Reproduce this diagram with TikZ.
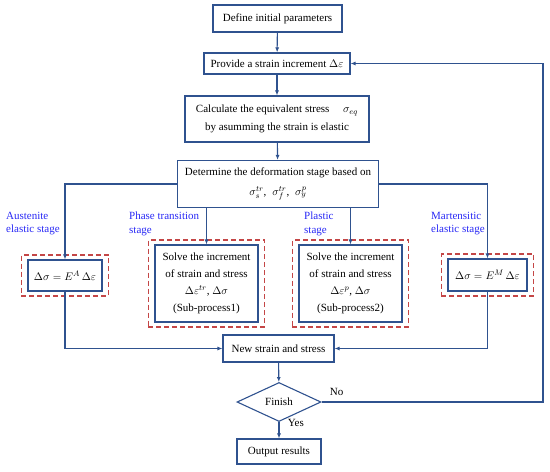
\documentclass[tikz,border=0pt]{standalone}
\usepackage{amsmath}
\usepackage{fontspec}
\setmainfont{Liberation Serif}
\usetikzlibrary{arrows.meta, positioning, shapes.geometric, calc, fit}
\definecolor{flowblue}{RGB}{47, 82, 143}
\definecolor{stagered}{RGB}{196, 70, 70}
\definecolor{labelblue}{RGB}{40, 40, 245}
\tikzset{
  stepbox/.style={
    draw=flowblue, rectangle, line width=1.1pt,
    inner sep=2pt, align=center, font=\fontsize{11}{17}\selectfont
  },
  decision/.style={
    diamond, draw=flowblue, line width=1.1pt, aspect=2.15,
    inner sep=1pt, minimum width=84pt, minimum height=39pt, font=\fontsize{11}{12}\selectfont
  },
  dashbox/.style={
    draw=stagered, rectangle, line width=1.5pt, dash pattern=on 5pt off 3pt,
    inner xsep=6pt, inner ysep=4.5pt
  },
  stagelabel/.style={
    anchor=north west, align=left, text=labelblue, inner sep=0pt,
    font=\fontsize{11}{13.5}\selectfont
  },
  arrow/.style={
    -{Latex[length=5pt, width=4pt]}, draw=flowblue, line width=1.1pt
  }
}
\begin{document}
\begin{tikzpicture}[x=1pt, y=-1pt, font=\fontsize{11}{13}\selectfont]
  \useasboundingbox (0,0) rectangle (550,472);
  % main column
  \node[stepbox, minimum width=129pt, minimum height=27pt] (define) at (277.5,18.5) {Define initial parameters};
  \node[stepbox, minimum width=146pt, minimum height=21pt] (provide) at (277,63.5) {Provide a strain increment $\Delta\varepsilon$};
  \node[stepbox, minimum width=184pt, minimum height=46pt, font=\fontsize{11}{18}\selectfont] (calc) at (277,119) {Calculate the equivalent stress \quad$\sigma_{eq}$\\by asumming the strain is elastic};
  \node[stepbox, minimum width=201pt, minimum height=47pt, font=\fontsize{11}{20}\selectfont] (determine) at (278,184) {Determine the deformation stage based on\\$\sigma_s^{tr}$,\; $\sigma_f^{tr}$,\; $\sigma_y^{p}$};

  % stages
  \node[stepbox, minimum width=74pt, minimum height=31pt] (aust) at (65,275.5) {$\Delta\sigma = E^{A}\,\Delta\varepsilon$};
  \node[stepbox, minimum width=103pt, minimum height=77pt] (phase) at (206.5,283.5) {Solve the increment\\of strain and stress\\$\Delta\varepsilon^{tr}$, $\Delta\sigma$\\(Sub-process1)};
  \node[stepbox, minimum width=103pt, minimum height=77pt] (plastic) at (350.5,283.5) {Solve the increment\\of strain and stress\\$\Delta\varepsilon^{p}$, $\Delta\sigma$\\(Sub-process2)};
  \node[stepbox, minimum width=79pt, minimum height=32pt] (mart) at (487.5,275) {$\Delta\sigma = E^{M}\,\Delta\varepsilon$};

  \node[dashbox, fit=(aust)] (aust_frame) {};
  \node[dashbox, fit=(phase)] (phase_frame) {};
  \node[dashbox, fit=(plastic)] (plastic_frame) {};
  \node[dashbox, fit=(mart)] (mart_frame) {};

  \node[stagelabel] (aust_label) at (6,212) {Austenite\\elastic stage};
  \node[stagelabel] (phase_label) at (129,212) {Phase transition\\stage};
  \node[stagelabel] (plastic_label) at (304,212) {Plastic\\stage};
  \node[stagelabel] (mart_label) at (431,212) {Martensitic\\elastic stage};

  % bottom part
  \node[stepbox, minimum width=111pt, minimum height=27pt] (newss) at (278.5,348.5) {New strain and stress};
  \node[decision] (finish) at (279,402) {Finish};
  \node[stepbox, minimum width=84pt, minimum height=25pt] (output) at (279,451.5) {Output results};
  \coordinate (loop) at (543,0);

  \draw[arrow] (define) -- (provide);
  \draw[arrow] (provide) -- (calc);
  \draw[arrow] (calc) -- (determine);
  \draw[arrow] (determine.west) -| (aust.north);
  \draw[arrow] (determine.east) -| (mart.north);
  \draw[arrow] (determine.south -| phase.north) -- (phase.north);
  \draw[arrow] (determine.south -| plastic.north) -- (plastic.north);
  \draw[arrow] (aust.south) |- (newss.west);
  \draw[arrow] (mart.south) |- (newss.east);
  \draw[arrow] (newss) -- (finish);
  \draw[arrow] (finish) -- node[right, pos=0.1, xshift=5pt, yshift=1pt] {Yes} (output);
  \draw[arrow] (finish.east) -- node[above right, pos=0.02, yshift=3pt] {No} (finish.east -| loop) |- (provide.east);
\end{tikzpicture}
\end{document}
